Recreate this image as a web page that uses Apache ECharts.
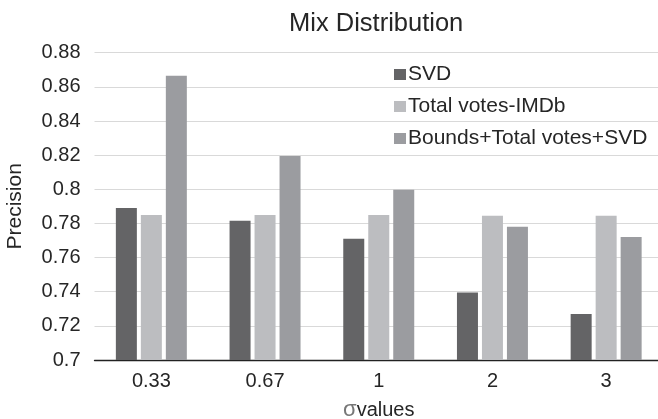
<!DOCTYPE html>
<html>
<head>
<meta charset="utf-8">
<script src="https://cdn.jsdelivr.net/npm/echarts@6/dist/echarts.min.js"></script>
<style>html,body{margin:0;padding:0;background:#fff}#c{width:658px;height:419px}</style>
</head>
<body>
<div id="c"></div>
<script>
const categories = ['0.33', '0.67', '1', '2', '3'];
const svd = [0.789, 0.7815, 0.771, 0.7395, 0.727];
const totalVotes = [0.785, 0.785, 0.785, 0.7845, 0.7845];
const boundsTotalSvd = [0.8665, 0.8195, 0.7997, 0.778, 0.772];
const seriesNames = ['SVD', 'Total votes-IMDb', 'Bounds+Total votes+SVD'];
const yTicks = { min: 0.7, max: 0.88, interval: 0.02 };

const colors = ['#646466', '#bcbdc0', '#9b9ca0'];
const font = 'Liberation Sans, Arial, sans-serif';
const chart = echarts.init(document.getElementById('c'));
chart.setOption({
  animation: false,
  color: colors,
  title: {
    text: 'Mix Distribution', left: 284, top: 6,
    textStyle: { fontFamily: font, fontSize: 25.5, fontWeight: 'normal', color: '#262626' }
  },
  legend: {
    orient: 'vertical', left: 389, top: 59, itemGap: 11,
    itemWidth: 12, itemHeight: 11, icon: 'rect',
    textStyle: { fontFamily: font, fontSize: 21, color: '#262626', padding: [0, 0, 0, -3] },
    data: seriesNames
  },
  grid: { left: 94.5, right: -5, top: 52.7, bottom: 59, containLabel: false, outerBoundsMode: 'none' },
  xAxis: {
    type: 'category', data: categories,
    axisLine: { lineStyle: { color: '#222', width: 1.3 } },
    axisTick: { show: false },
    axisLabel: { fontFamily: font, fontSize: 20, color: '#262626', margin: 11 },
    name: '{s|σ}values', nameLocation: 'middle', nameGap: 39,
    nameTextStyle: {
      fontFamily: font, fontSize: 20, color: '#262626',
      rich: { s: { fontFamily: font, fontSize: 22, color: '#777' } }
    }
  },
  yAxis: {
    type: 'value', min: yTicks.min, max: yTicks.max, interval: yTicks.interval,
    axisLine: { show: false }, axisTick: { show: false },
    splitLine: { lineStyle: { color: '#d9d9d9', width: 1.2 } },
    axisLabel: {
      fontFamily: font, fontSize: 20, color: '#262626', margin: 14,
      formatter: v => String(parseFloat(v.toFixed(2)))
    },
    name: 'Precision', nameLocation: 'middle', nameGap: 69, nameRotate: 90,
    nameTextStyle: { fontFamily: font, fontSize: 21, color: '#262626' }
  },
  series: [
    { name: seriesNames[0], type: 'bar', data: svd, barWidth: 21, barGap: '19%' },
    { name: seriesNames[1], type: 'bar', data: totalVotes, barWidth: 21, barGap: '19%' },
    { name: seriesNames[2], type: 'bar', data: boundsTotalSvd, barWidth: 21, barGap: '19%' }
  ]
});
</script>
</body>
</html>
